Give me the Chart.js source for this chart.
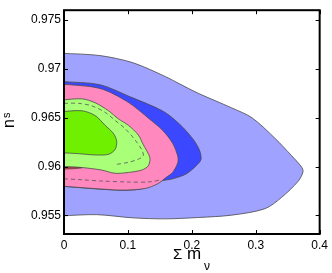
<!DOCTYPE html>
<html>
<head>
<meta charset="utf-8">
<script src="https://cdn.jsdelivr.net/npm/chart.js@4.4.1/dist/chart.umd.min.js"></script>
<style>
  html, body { margin: 0; padding: 0; background: #fff; overflow: hidden; }
</style>
</head>
<body>
<canvas id="chart" width="332" height="273"></canvas>
<script>
// ----- axis ticks -----
const xTicks = [0, 0.1, 0.2, 0.3, 0.4];
const xTickLabels = ["0", "0.1", "0.2", "0.3", "0.4"];
const yTicks = [0.955, 0.96, 0.965, 0.97, 0.975];
const yTickLabels = ["0.955", "0.96", "0.965", "0.97", "0.975"];

// ----- contour outlines (sum m_nu, n_s) -----
// outer light blue region
const lightBlueX = [-0.005, 0.056, 0.108, 0.159, 0.18, 0.21, 0.2625, 0.294, 0.33, 0.356, 0.3715, 0.374,
                    0.3663, 0.3403, 0.3144, 0.2625, 0.2106, 0.1588, 0.108, 0.0508, -0.005];
const lightBlueY = [0.9716, 0.97136, 0.97062, 0.9692, 0.96849, 0.9675, 0.966, 0.965, 0.9629, 0.96112, 0.95997, 0.95947,
                    0.95849, 0.95684, 0.95569, 0.95503, 0.95479, 0.95465, 0.95475, 0.95508, 0.95495];
// dark blue region
const darkBlueX = [-0.005, 0.056, 0.1027, 0.1545, 0.1805, 0.2012, 0.2117, 0.2143, 0.2065, 0.191, 0.17, 0.149, 0.12, 0.08, -0.005];
const darkBlueY = [0.96871, 0.96838, 0.96716, 0.96568, 0.96436, 0.96287, 0.96172, 0.96073, 0.96007, 0.95924, 0.95875, 0.95849, 0.9577, 0.9576, 0.958];
// pink region
const pinkX = [-0.005, 0.056, 0.1, 0.134, 0.1545, 0.17, 0.178, 0.178, 0.17, 0.16, 0.147, 0.1265, 0.09, 0.048, -0.005];
const pinkY = [0.96845, 0.968, 0.9666, 0.96485, 0.9637, 0.96238, 0.96106, 0.9604, 0.9594, 0.9589, 0.95825, 0.95775, 0.95759, 0.95775, 0.958];
// light green region
const lightGreenX = [-0.005, 0.028, 0.0487, 0.0696, 0.0851, 0.1007, 0.1163, 0.124, 0.1343, 0.1318, 0.1214, 0.1007, 0.0799, 0.059, 0.028, -0.005];
const lightGreenY = [0.9668, 0.96693, 0.96653, 0.96571, 0.96488, 0.96422, 0.96323, 0.96224, 0.96092, 0.96007, 0.95964, 0.9594, 0.95931, 0.95964, 0.9599, 0.96];
// bright green region
const greenX = [-0.005, 0.028, 0.0487, 0.0643, 0.0773, 0.0825, 0.0799, 0.0696, 0.0487, 0.0228, -0.005];
const greenY = [0.96561, 0.96571, 0.96522, 0.96422, 0.96339, 0.96257, 0.96175, 0.96125, 0.96119, 0.96132, 0.96142];
// small red sliver
const redX = [-0.005, 0.015, 0.028, 0.015, -0.005];
const redY = [0.95996, 0.95993, 0.95988, 0.95978, 0.95975];
// dashed contours
const dashUpperX = [0, 0.0228, 0.0436, 0.0643, 0.0799, 0.0955, 0.111, 0.1214, 0.124, 0.1163, 0.1007, 0.0799];
const dashUpperY = [0.96647, 0.96647, 0.96621, 0.96555, 0.96472, 0.96389, 0.96274, 0.96175, 0.96109, 0.96076, 0.96043, 0.9602];
const dashLowerX = [0, 0.028, 0.059, 0.1007, 0.132, 0.1525];
const dashLowerY = [0.95875, 0.95865, 0.95852, 0.95842, 0.95842, 0.95865];

const FONT = "'Liberation Sans', Arial, Helvetica, sans-serif";

function pts(xs, ys) {
    return xs.map((x, i) => ({ x: x, y: ys[i] }));
}

function region(xs, ys, color, order) {
    return {
        data: pts(xs, ys), showLine: true, fill: "shape",
        backgroundColor: color, borderColor: "#4a4a4a", borderWidth: 0.8,
        pointRadius: 0, tension: 0.3, order: order
    };
}

function dashed(xs, ys, order) {
    return {
        data: pts(xs, ys), showLine: true, fill: false,
        borderColor: "#555", borderWidth: 0.8, borderDash: [4, 3],
        pointRadius: 0, tension: 0.3, order: order
    };
}

// frame, inward tick marks and axis titles
const framePlugin = {
    id: "frame",
    afterDatasetsDraw(chart) {
        const { ctx, chartArea: a, scales } = chart;
        ctx.save();
        ctx.strokeStyle = "#000";
        ctx.lineWidth = 1;
        xTicks.forEach(v => {
            const px = Math.round(scales.x.getPixelForValue(v)) + 0.5;
            ctx.beginPath();
            ctx.moveTo(px, a.bottom); ctx.lineTo(px, a.bottom - 4);
            ctx.moveTo(px, a.top); ctx.lineTo(px, a.top + 4);
            ctx.stroke();
        });
        yTicks.forEach(v => {
            const py = Math.round(scales.y.getPixelForValue(v)) + 0.5;
            ctx.beginPath();
            ctx.moveTo(a.left, py); ctx.lineTo(a.left + 4, py);
            ctx.moveTo(a.right, py); ctx.lineTo(a.right - 4, py);
            ctx.stroke();
        });
        ctx.lineWidth = 2;
        ctx.strokeRect(a.left, a.top, a.right - a.left, a.bottom - a.top);

        // y title: n_s
        ctx.fillStyle = "#000";
        ctx.save();
        ctx.translate(14, 128);
        ctx.rotate(-Math.PI / 2);
        ctx.textBaseline = "alphabetic";
        ctx.textAlign = "left";
        ctx.font = "16px " + FONT;
        ctx.fillText("n", 0, 0);
        ctx.font = "11px " + FONT;
        ctx.fillText("s", 10, -4);
        ctx.restore();

        // x title: Σ m_ν
        ctx.textAlign = "left";
        ctx.textBaseline = "alphabetic";
        ctx.font = "15px " + FONT;
        ctx.fillText("\u03A3", 173, 259);
        ctx.font = "17px " + FONT;
        ctx.fillText("m", 187, 259);
        ctx.font = "12px " + FONT;
        ctx.fillText("\u03BD", 204, 270);
        ctx.restore();
    }
};

new Chart(document.getElementById("chart"), {
    type: "scatter",
    data: {
        datasets: [
            dashed(dashUpperX, dashUpperY, 0),
            dashed(dashLowerX, dashLowerY, 1),
            region(greenX, greenY, "#6ef000", 2),
            region(redX, redY, "#ff3030", 3),
            region(lightGreenX, lightGreenY, "#aaff78", 4),
            region(pinkX, pinkY, "#ff88be", 5),
            region(darkBlueX, darkBlueY, "#3c48ff", 6),
            region(lightBlueX, lightBlueY, "#a0a2ff", 7)
        ]
    },
    options: {
        responsive: false,
        animation: false,
        layout: { padding: { top: 3, right: 11, left: 0, bottom: 0 } },
        plugins: { legend: { display: false }, tooltip: { enabled: false } },
        scales: {
            x: {
                type: "linear", min: 0, max: 0.4,
                grid: { display: false, drawTicks: false },
                border: { display: false },
                afterBuildTicks: s => { s.ticks = xTicks.map(v => ({ value: v })); },
                afterFit: s => { s.height = 39; },
                ticks: {
                    padding: 4, color: "#000", font: { family: FONT, size: 12 },
                    maxRotation: 0, autoSkip: false,
                    callback: (v, i) => xTickLabels[i]
                }
            },
            y: {
                type: "linear", min: 0.9531, max: 0.976,
                grid: { display: false, drawTicks: false },
                border: { display: false },
                afterBuildTicks: s => { s.ticks = yTicks.map(v => ({ value: v })); },
                afterFit: s => { s.width = 64; },
                ticks: {
                    padding: 3, color: "#000", font: { family: FONT, size: 12 },
                    autoSkip: false,
                    callback: (v, i) => yTickLabels[i]
                }
            }
        }
    },
    plugins: [framePlugin]
});
</script>
</body>
</html>
